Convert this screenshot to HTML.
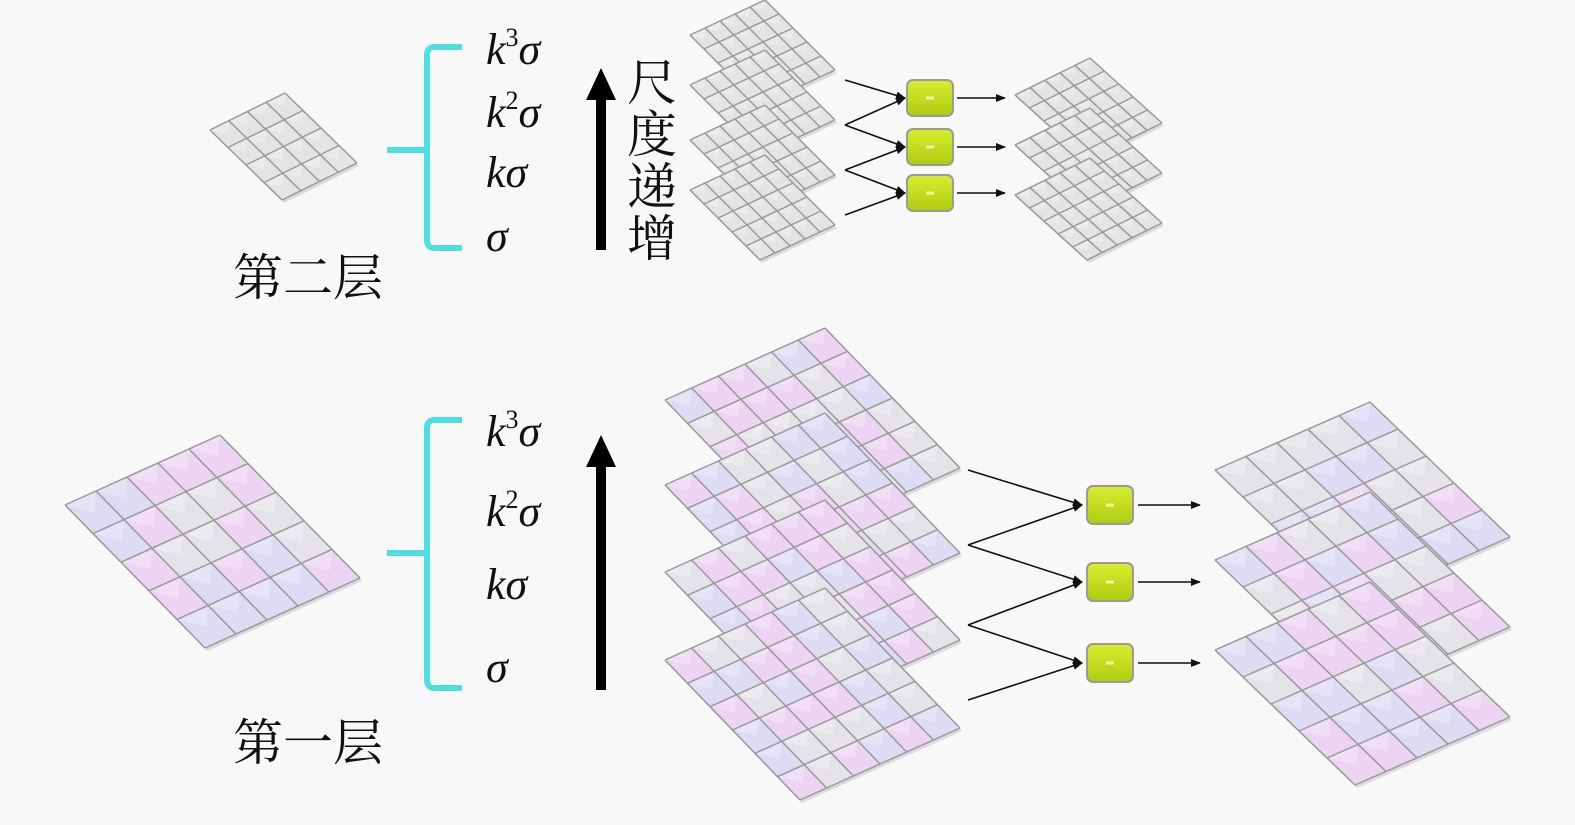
<!DOCTYPE html>
<html><head><meta charset="utf-8"><style>
html,body{margin:0;padding:0;background:#f8f8f8;}
svg{display:block}
.t{font-family:"Liberation Serif","Noto Serif CJK SC",serif;font-style:italic;font-size:44px;fill:#111}
.c{font-family:"Liberation Serif","Noto Serif CJK SC",serif;font-size:50px;fill:#111}
</style></head><body>
<svg id="s" width="1575" height="825" viewBox="0 0 1575 825" xmlns="http://www.w3.org/2000/svg">
<defs>
<marker id="ah" markerWidth="10" markerHeight="10" refX="9" refY="5" orient="auto" markerUnits="userSpaceOnUse"><path d="M0,1 L10,5 L0,9 Z" fill="#111"/></marker>
<linearGradient id="gb" x1="0" y1="0" x2="0" y2="1"><stop offset="0" stop-color="#d6ee30"/><stop offset="1" stop-color="#b0cc10"/></linearGradient>
</defs>
<g id="grids"></g>
<g id="arr" stroke="#111" stroke-width="1.6" fill="none" marker-end="url(#ah)"></g>
<g id="boxes"></g>
<g fill="none" stroke="#4fdfe0" stroke-width="6">
<path d="M462,47 H435 Q427,47 427,55 V240 Q427,248 435,248 H462"/>
<path d="M387,150 H427"/>
<path d="M462,420 H435 Q427,420 427,428 V680 Q427,688 435,688 H462"/>
<path d="M387,553 H427"/>
</g>
<rect x="596" y="95" width="10" height="155" fill="#000"/>
<path d="M586,100 L601,68 L616,100 Z" fill="#000"/>
<rect x="596" y="462" width="10" height="228" fill="#000"/>
<path d="M586,467 L601,435 L616,467 Z" fill="#000"/>
<text class="t" x="486" y="64">k<tspan font-style="normal" font-size="26" dy="-18">3</tspan><tspan dy="18">σ</tspan></text>
<text class="t" x="486" y="127">k<tspan font-style="normal" font-size="26" dy="-18">2</tspan><tspan dy="18">σ</tspan></text>
<text class="t" x="486" y="187">kσ</text>
<text class="t" x="486" y="251">σ</text>
<text class="t" x="486" y="446">k<tspan font-style="normal" font-size="26" dy="-18">3</tspan><tspan dy="18">σ</tspan></text>
<text class="t" x="486" y="526">k<tspan font-style="normal" font-size="26" dy="-18">2</tspan><tspan dy="18">σ</tspan></text>
<text class="t" x="486" y="599">kσ</text>
<text class="t" x="486" y="682">σ</text>
<text class="c" x="627" y="100">尺</text>
<text class="c" x="627" y="152">度</text>
<text class="c" x="627" y="204">递</text>
<text class="c" x="627" y="256">增</text>
<text class="c" x="233" y="295">第二层</text>
<text class="c" x="233" y="760">第一层</text>
</svg>
<script>
var NS="http://www.w3.org/2000/svg";
var G=document.getElementById('grids');
function el(t,a,p){var e=document.createElementNS(NS,t);for(var k in a)e.setAttribute(k,a[k]);(p||G).appendChild(e);return e;}
var seed=7;function rnd(){seed=(seed*9301+49297)%233280;return seed/233280;}
function grid(x,y,u,v,n,color){
 var P=function(i,j){return [x+u[0]*i/n+v[0]*j/n, y+u[1]*i/n+v[1]*j/n];};
 var c=[P(0,0),P(n,0),P(n,n),P(0,n)];
 el('polygon',{points:c.map(p=>(p[0]+2)+','+(p[1]+3)).join(' '),fill:'#c8c8c8',opacity:0.6});
 for(var i=0;i<n;i++)for(var j=0;j<n;j++){
  var a=P(i,j),b=P(i+1,j),d=P(i+1,j+1),e=P(i,j+1);
  var f='#e4e4e4';
  if(color){var r=rnd();f=r<0.35?'#ecd4f2':(r<0.6?'#dddcf4':'#e6e2ea');}
  el('polygon',{points:[a,b,d,e].map(p=>p.join(',')).join(' '),fill:f});
  var m=[(a[0]+d[0])/2,(a[1]+d[1])/2];
  el('polygon',{points:[a,b,m].map(p=>p.join(',')).join(' '),fill:'#fff',opacity:0.25});
 }
 for(var k=0;k<=n;k++){
  var p1=P(k,0),p2=P(k,n);el('line',{x1:p1[0],y1:p1[1],x2:p2[0],y2:p2[1],stroke:'#999','stroke-width':1.5});
  p1=P(0,k);p2=P(n,k);el('line',{x1:p1[0],y1:p1[1],x2:p2[0],y2:p2[1],stroke:'#999','stroke-width':1.5});
 }
}
grid(210,130,[75,-37],[72,70],4,false);
[35,85,140,190].forEach(y=>grid(690,y,[75,-35],[70,70],5,false));
[95,145,195].forEach(y=>grid(1015,y,[75,-37],[72,65],5,false));
grid(65,505,[155,-70],[140,143],5,true);
[400,485,572,660].forEach(y=>grid(665,y,[160,-72],[135,140],6,true));
[470,560,650].forEach(y=>grid(1215,y,[155,-68],[140,135],5,true));
var A=document.getElementById('arr');
function ar(x1,y1,x2,y2){el('line',{x1:x1,y1:y1,x2:x2,y2:y2},A);}
[[968,470,1082,505],[968,545,1082,505],[968,545,1082,582],[968,625,1082,582],[968,625,1082,663],[968,700,1082,663],
 [1138,505,1200,505],[1138,582,1200,582],[1138,663,1200,663],
 [845,80,905,98],[845,125,905,98],[845,125,905,147],[845,170,905,147],[845,170,905,193],[845,215,905,193],
 [957,98,1005,98],[957,147,1005,147],[957,193,1005,193]].forEach(a=>ar.apply(null,a));
var B=document.getElementById('boxes');
function box(cx,cy,w,h){el('rect',{x:cx-w/2,y:cy-h/2,width:w,height:h,rx:6,fill:'url(#gb)',stroke:'#9a9a9a','stroke-width':2},B);
 el('rect',{x:cx-4,y:cy-1.5,width:8,height:3,fill:'#eef7a0'},B);}
box(1110,505,46,38);box(1110,582,46,38);box(1110,663,46,38);
box(930,98,46,36);box(930,147,46,36);box(930,193,46,36);
</script>
</body></html>
